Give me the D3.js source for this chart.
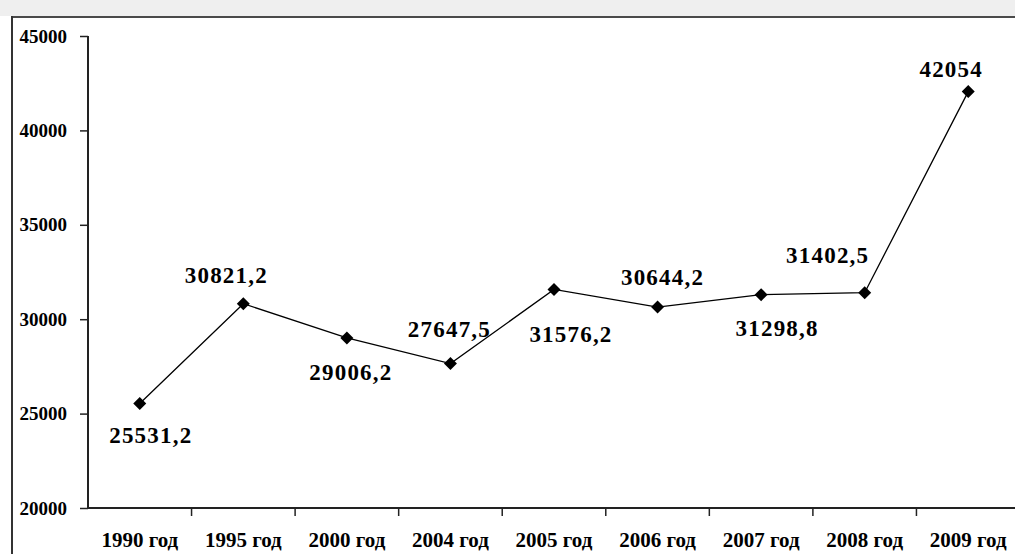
<!DOCTYPE html>
<html>
<head>
<meta charset="utf-8">
<script src="https://cdn.jsdelivr.net/npm/d3@7/dist/d3.min.js"></script>
<style>
  html, body { margin: 0; padding: 0; background: #fff; }
  svg { display: block; }
  text { font-family: "Liberation Serif", "Times New Roman", serif; fill: #000; }
</style>
</head>
<body>
<svg id="chart" width="1015" height="554"></svg>
<script>
// Years shown on the horizontal axis
const categories = ["1990 год", "1995 год", "2000 год", "2004 год", "2005 год",
                    "2006 год", "2007 год", "2008 год", "2009 год"];
// Series values
const values = [25531.2, 30821.2, 29006.2, 27647.5, 31576.2, 30644.2, 31298.8, 31402.5, 42054];
// Value labels as printed next to each point
const valueLabels = ["25531,2", "30821,2", "29006,2", "27647,5", "31576,2",
                     "30644,2", "31298,8", "31402,5", "42054"];
// Vertical axis ticks
const yTicks = [20000, 25000, 30000, 35000, 40000, 45000];

// Label placement relative to its point: [dx, dy] in pixels (text baseline)
const labelOffsets = [[11, 39], [-17, -21], [4, 42], [-1, -27], [17, 53],
                      [5, -22], [16, 41], [-37, -30], [-17, -15]];

const svg = d3.select("#chart");
const W = 1015, H = 554;

// Frame: light strip at the top and the dark border of the panel
svg.append("rect").attr("x", 0).attr("y", 0).attr("width", W).attr("height", 16)
  .attr("fill", "#efefef");
svg.append("line").attr("x1", 12).attr("x2", W).attr("y1", 17).attr("y2", 17)
  .attr("stroke", "#4a4a4a").attr("stroke-width", 2);
svg.append("line").attr("x1", 12).attr("x2", 12).attr("y1", 16).attr("y2", H)
  .attr("stroke", "#333").attr("stroke-width", 2);

const plotLeft = 88, plotRight = 1020, plotTop = 36, plotBottom = 508;

const x = d3.scaleBand().domain(categories).range([plotLeft, plotRight]).paddingInner(0).paddingOuter(0);
const y = d3.scaleLinear().domain([20000, 45000]).range([plotBottom, plotTop]);
const cx = c => x(c) + x.bandwidth() / 2;

// Y axis
const yAxis = svg.append("g").attr("transform", `translate(${plotLeft},0)`)
  .call(d3.axisLeft(y).tickValues(yTicks).tickSize(8).tickPadding(13)
        .tickFormat(d3.format("d")));
yAxis.select(".domain").remove();
yAxis.selectAll(".tick line").attr("stroke", "#222").attr("stroke-width", 1.5);
yAxis.selectAll(".tick text")
  .attr("font-family", "Liberation Serif, serif")
  .attr("font-size", 19).attr("font-weight", "bold").attr("fill", "#000");
svg.append("line").attr("x1", plotLeft).attr("x2", plotLeft)
  .attr("y1", y(45000)).attr("y2", y(20000))
  .attr("stroke", "#222").attr("stroke-width", 2);

// X axis: line, ticks on category boundaries, labels at category centres
svg.append("line").attr("x1", plotLeft).attr("x2", W)
  .attr("y1", plotBottom).attr("y2", plotBottom)
  .attr("stroke", "#222").attr("stroke-width", 2);
svg.append("g").selectAll("line").data(categories.slice(1)).join("line")
  .attr("x1", d => x(d)).attr("x2", d => x(d))
  .attr("y1", plotBottom).attr("y2", plotBottom + 8)
  .attr("stroke", "#222").attr("stroke-width", 1.5);
svg.append("g").selectAll("text").data(categories).join("text")
  .attr("x", d => cx(d)).attr("y", 547)
  .attr("text-anchor", "middle")
  .attr("font-size", 21).attr("font-weight", "bold")
  .text(d => d);

// Series line
const pts = categories.map((c, i) => ({ c, v: values[i], label: valueLabels[i], off: labelOffsets[i] }));
svg.append("path").datum(pts)
  .attr("fill", "none").attr("stroke", "#000").attr("stroke-width", 1.3)
  .attr("d", d3.line().x(d => cx(d.c)).y(d => y(d.v)));

// Diamond markers
svg.append("g").selectAll("path").data(pts).join("path")
  .attr("transform", d => `translate(${cx(d.c)},${y(d.v)})`)
  .attr("d", "M0,-6.5L6.5,0L0,6.5L-6.5,0Z")
  .attr("fill", "#000");

// Value labels
svg.append("g").selectAll("text").data(pts).join("text")
  .attr("x", d => cx(d.c) + d.off[0])
  .attr("y", d => y(d.v) + d.off[1])
  .attr("text-anchor", "middle")
  .attr("font-size", 23).attr("font-weight", "bold")
  .attr("letter-spacing", "1.2px")
  .attr("fill", "#111")
  .text(d => d.label);
</script>
</body>
</html>
